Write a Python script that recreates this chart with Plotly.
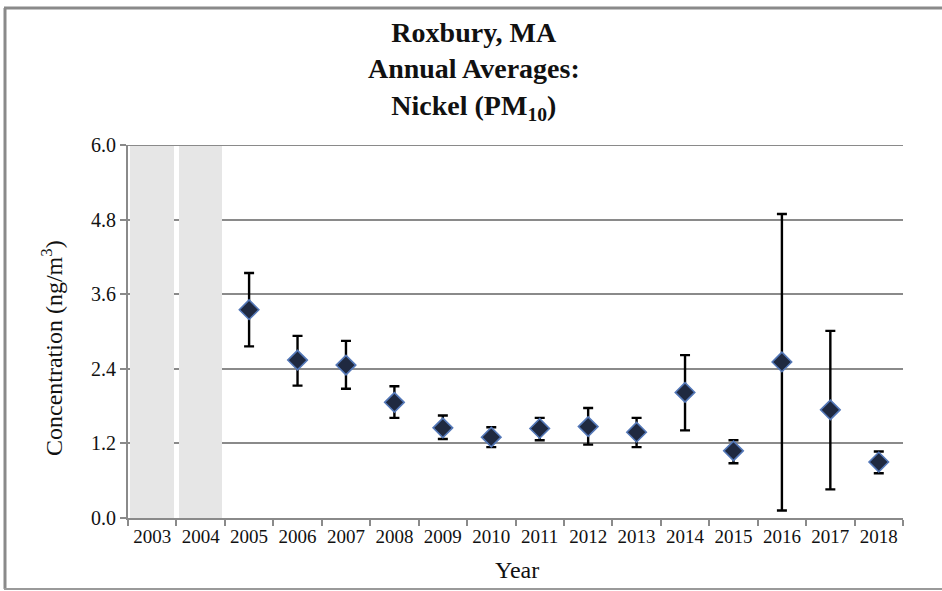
import plotly.graph_objects as go

# Annual average nickel (PM10) concentrations, ng/m3, with confidence bounds
years = ["2005", "2006", "2007", "2008", "2009", "2010", "2011",
         "2012", "2013", "2014", "2015", "2016", "2017", "2018"]
mean_conc = [3.35, 2.54, 2.46, 1.86, 1.45, 1.30, 1.44,
             1.47, 1.38, 2.02, 1.08, 2.51, 1.74, 0.90]
upper_conc = [3.94, 2.93, 2.85, 2.12, 1.65, 1.46, 1.61,
              1.77, 1.61, 2.62, 1.25, 4.89, 3.01, 1.07]
lower_conc = [2.76, 2.13, 2.08, 1.61, 1.27, 1.14, 1.25,
              1.18, 1.14, 1.41, 0.88, 0.12, 0.46, 0.72]

# Years without monitoring data (shaded)
no_data_years = ["2003", "2004"]
all_years = [str(y) for y in range(2003, 2019)]

y_max = 6.0
y_step = 1.2

err_plus = [u - m for u, m in zip(upper_conc, mean_conc)]
err_minus = [m - l for m, l in zip(mean_conc, lower_conc)]

W, H = 942, 591
ML, MR, MT, MB = 128, 39, 145, 73
PW, PH = W - ML - MR, H - MT - MB


def px_x(p):
    return (p - ML) / PW


def px_y(p):
    return (H - MB - p) / PH


FONT = "Liberation Serif"
GRID = "#8a8a8a"
INK = "#111111"

fig = go.Figure()

fig.add_trace(go.Bar(
    x=no_data_years,
    y=[y_max] * len(no_data_years),
    width=0.9,
    marker=dict(color="#e6e6e6", line=dict(width=0)),
    hoverinfo="skip",
    showlegend=False,
))

fig.add_trace(go.Scatter(
    x=years,
    y=mean_conc,
    mode="markers",
    marker=dict(symbol="diamond", size=15, color="#1f2940",
                line=dict(color="#5478b8", width=1.6)),
    error_y=dict(type="data", symmetric=False, array=err_plus,
                 arrayminus=err_minus, color="black", thickness=2.4, width=5),
    showlegend=False,
))

fig.update_layout(
    width=W, height=H,
    margin=dict(l=ML, r=MR, t=MT, b=MB),
    paper_bgcolor="white",
    plot_bgcolor="white",
    font=dict(family=FONT, color=INK, size=20),
    title=dict(
        text="Roxbury, MA<br>Annual Averages:<br>Nickel (PM<sub>10</sub>)",
        x=0.503, xref="container", xanchor="center",
        y=1 - 42 / H, yref="container", yanchor="top",
        font=dict(family=FONT, size=28, color=INK, weight="bold"),
    ),
    bargap=0,
    xaxis=dict(
        type="category",
        categoryorder="array",
        categoryarray=all_years,
        range=[-0.5, len(all_years) - 0.5],
        tickson="boundaries",
        tickangle=0,
        ticks="outside", ticklen=6, tickwidth=2, tickcolor=GRID,
        showline=True, linecolor=GRID, linewidth=2,
        showgrid=False,
        tickfont=dict(family=FONT, size=19, color=INK),
        fixedrange=True,
    ),
    yaxis=dict(
        range=[0, y_max],
        dtick=y_step, tick0=0,
        tickformat=".1f",
        ticks="outside", ticklen=6, tickwidth=2, tickcolor=GRID,
        showline=True, linecolor=GRID, linewidth=2,
        showgrid=True, gridcolor=GRID, gridwidth=2,
        zeroline=False,
        tickfont=dict(family=FONT, size=20, color=INK),
        fixedrange=True,
    ),
    annotations=[
        dict(text="Concentration (ng/m<sup>3</sup>)", textangle=-90,
             xref="paper", yref="paper", x=px_x(52), y=px_y(348),
             xanchor="center", yanchor="middle", showarrow=False,
             font=dict(family=FONT, size=24, color=INK)),
        dict(text="Year",
             xref="paper", yref="paper", x=px_x(517), y=px_y(570),
             xanchor="center", yanchor="middle", showarrow=False,
             font=dict(family=FONT, size=24, color=INK)),
    ],
    shapes=[
        # top gridline at the axis maximum, drawn over the shaded years
        dict(type="line", xref="paper", yref="y",
             x0=0, x1=1, y0=y_max, y1=y_max,
             line=dict(color=GRID, width=2), layer="above"),
        dict(type="line", xref="paper", yref="paper",
             x0=px_x(5), x1=px_x(5), y0=px_y(8), y1=px_y(589),
             line=dict(color="#8a8a8a", width=3)),
        dict(type="line", xref="paper", yref="paper",
             x0=px_x(4), x1=px_x(960), y0=px_y(8), y1=px_y(8),
             line=dict(color="#8a8a8a", width=3)),
        dict(type="line", xref="paper", yref="paper",
             x0=px_x(4), x1=px_x(960), y0=px_y(589), y1=px_y(589),
             line=dict(color="#9a9a9a", width=2)),
    ],
)

fig.write_html("out.html")
